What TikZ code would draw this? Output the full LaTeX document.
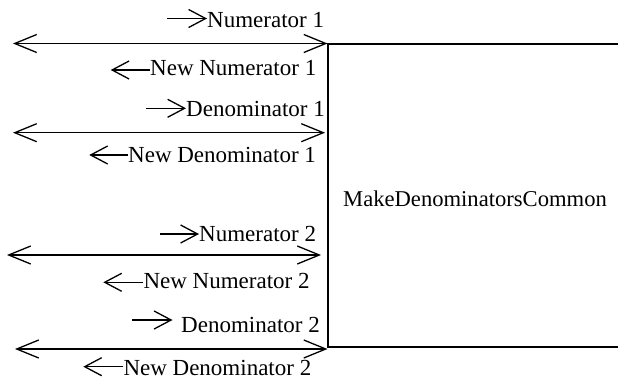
\documentclass[tikz,border=0pt]{standalone}
\usepackage{fontspec}
\setmainfont{Liberation Serif}
\usetikzlibrary{arrows.meta}
\begin{document}
\begin{tikzpicture}[x=1pt,y=1pt,
  lbl/.style={inner sep=0pt, anchor=base west, font=\fontsize{23}{27}\selectfont},
  bigarrow/.style={line width=1.3pt, {Straight Barb[length=22pt,width=18pt]}-{Straight Barb[length=22pt,width=18pt]}},
  smallarrow/.style={line width=1.3pt, -{Straight Barb[length=17pt,width=18pt]}},
  boxline/.style={line width=2pt}]
\useasboundingbox (0,0) rectangle (618,381);
% block
\node[draw=none, inner sep=0pt, minimum width=290.5pt, minimum height=302.7pt, anchor=north west] (box) at (327.5,337) {};
\draw[boxline] (box.north east) -- (box.north west) -- (box.south west) -- (box.south east);
\node[inner sep=0pt, anchor=base west, font=\fontsize{22.6}{27}\selectfont] (title) at (343,175) {MakeDenominatorsCommon};
% labels
\node[lbl] (n1) at (207,353.7) {Numerator 1};
\node[lbl] (n2) at (150,305.3) {New Numerator 1};
\node[lbl] (n3) at (186,264.3) {Denominator 1};
\node[lbl] (n4) at (128,218.7) {New Denominator 1};
\node[lbl] (n5) at (199,139.3) {Numerator 2};
\node[lbl] (n6) at (143.3,92.7) {New Numerator 2};
\node[lbl] (n7) at (181,48.3) {Denominator 2};
\node[lbl] (n8) at (123.3,6) {New Denominator 2};
% small arrows
\coordinate (a1) at (167,362.5);
\coordinate (a2) at (110.7,311);
\coordinate (a3) at (146,272.7);
\coordinate (a4) at (89.3,226);
\coordinate (a5) at (160,147);
\coordinate (a6) at (103.3,98.7);
\coordinate (a7) at (132.3,61);
\coordinate (a8) at (83.3,14.3);
\draw[smallarrow] (a1) -- (a1 -| n1.west);
\draw[smallarrow] (a2 -| n2.west) -- (a2);
\draw[smallarrow] (a3) -- (a3 -| n3.west);
\draw[smallarrow] (a4 -| n4.west) -- (a4);
\draw[smallarrow] (a5) -- (a5 -| n5.west);
\draw[smallarrow] (a6 -| n6.west) -- (a6);
\draw[smallarrow, shorten >=8.5pt] (a7) -- (a7 -| n7.west);
\draw[smallarrow] (a8 -| n8.west) -- (a8);
% main double arrows
\coordinate (l1) at (13,337.5);
\coordinate (l2) at (13,248.3);
\coordinate (l3) at (7,126);
\coordinate (l4) at (15,32);
\draw[bigarrow] (l1) -- (l1 -| box.west);
\draw[bigarrow, shorten >=2.5pt] (l2) -- (l2 -| box.west);
\draw[bigarrow, shorten >=6.5pt] (l3) -- (l3 -| box.west);
\draw[bigarrow] (l4) -- (l4 -| box.west);
\end{tikzpicture}
\end{document}
